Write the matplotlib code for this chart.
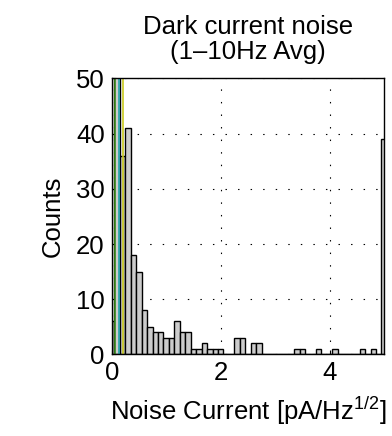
import numpy as np
import matplotlib
matplotlib.use("Agg")
import matplotlib.pyplot as plt

plt.rcParams["font.family"] = ["Liberation Sans", "DejaVu Sans"]
plt.rcParams["mathtext.fontset"] = "custom"
plt.rcParams["mathtext.rm"] = "Liberation Sans"
plt.rcParams["mathtext.it"] = "Liberation Sans:italic"

# histogram bin centres (pA/Hz^1/2) and counts
bin_centers = [round(0.1 * i, 1) for i in range(51)]
counts = [6, 60, 36, 41, 18, 15, 8, 5, 4, 4,
          3, 3, 6, 4, 4, 1, 1, 2, 1, 1,
          1, 0, 0, 3, 3, 0, 2, 2, 0, 0,
          0, 0, 0, 0, 1, 1, 0, 0, 1, 0,
          0, 1, 0, 0, 0, 0, 1, 0, 1, 0,
          39]
bin_width = 0.1

# vertical marker lines near zero
marker_x = [0.06, 0.14, 0.21]
marker_colors = ["#3c8c1e", "#1ea5aa", "#c8c81e"]

x_ticks = [0, 2, 4]
y_ticks = [0, 10, 20, 30, 40, 50]

fs = 18.5

fig = plt.figure(figsize=(3.92, 4.36), dpi=100)
ax = fig.add_axes([0.285, 0.187, 0.695, 0.633])

ax.bar(bin_centers, counts, width=bin_width, color="#cccccc",
       edgecolor="black", linewidth=1.0, zorder=2)

for mx, mc in zip(marker_x, marker_colors):
    ax.axvline(mx, color=mc, linewidth=1.2, zorder=3)

ax.set_xlim(0, 5)
ax.set_ylim(0, 50)
ax.set_xticks(x_ticks)
ax.set_yticks(y_ticks)
ax.tick_params(direction="in", length=3, width=0.8, labelsize=fs, pad=5)

ax.grid(True, color="black", linestyle=(0, (1.3, 10)), linewidth=0.8)
ax.set_axisbelow(True)
for sp in ax.spines.values():
    sp.set_linewidth(1.0)
    sp.set_zorder(4)

ax.set_title("Dark current noise\n(1\u201310Hz Avg)", fontsize=fs,
             linespacing=1.05, pad=14)
ax.set_xlabel(r"Noise Current [pA/Hz$^{\mathregular{1/2}}$]", fontsize=fs,
              labelpad=7)
ax.set_ylabel("Counts", fontsize=fs, labelpad=8)

fig.savefig("out.png", dpi=100)
